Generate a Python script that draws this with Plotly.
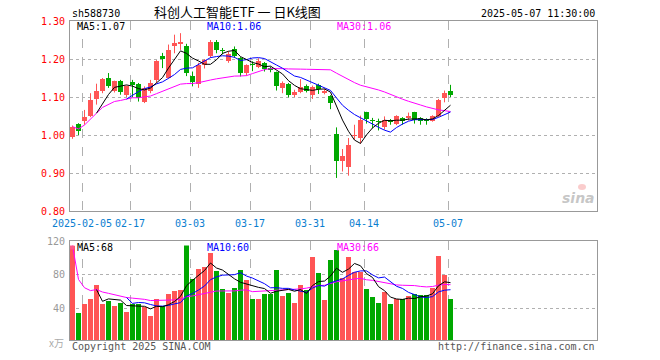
import plotly.graph_objects as go
import pandas as pd

# ---------------- data ----------------
dates = ["2025-01-24", "2025-01-27", "2025-02-05", "2025-02-06", "2025-02-07", "2025-02-10",
         "2025-02-11", "2025-02-12", "2025-02-13", "2025-02-14", "2025-02-17", "2025-02-18",
         "2025-02-19", "2025-02-20", "2025-02-21", "2025-02-24", "2025-02-25", "2025-02-26",
         "2025-02-27", "2025-02-28", "2025-03-03", "2025-03-04", "2025-03-05", "2025-03-06",
         "2025-03-07", "2025-03-10", "2025-03-11", "2025-03-12", "2025-03-13", "2025-03-14",
         "2025-03-17", "2025-03-18", "2025-03-19", "2025-03-20", "2025-03-21", "2025-03-24",
         "2025-03-25", "2025-03-26", "2025-03-27", "2025-03-28", "2025-03-31", "2025-04-01",
         "2025-04-02", "2025-04-03", "2025-04-07", "2025-04-08", "2025-04-09", "2025-04-10",
         "2025-04-11", "2025-04-14", "2025-04-15", "2025-04-16", "2025-04-17", "2025-04-18",
         "2025-04-21", "2025-04-22", "2025-04-23", "2025-04-24", "2025-04-25", "2025-04-28",
         "2025-04-29", "2025-04-30", "2025-05-06", "2025-05-07"]

opens = [0.995, 1.030, 1.038, 1.049, 1.095, 1.117, 1.150, 1.116, 1.143, 1.104,
         1.139, 1.135, 1.086, 1.115, 1.145, 1.209, 1.150, 1.235, 1.240, 1.233,
         1.156, 1.135, 1.185, 1.207, 1.246, 1.224, 1.196, 1.226, 1.202, 1.163,
         1.187, 1.180, 1.189, 1.176, 1.165, 1.124, 1.135, 1.104, 1.112, 1.130,
         1.104, 1.132, 1.110, 1.103, 1.003, 0.932, 0.917, 0.997, 0.992, 1.060,
         1.040, 1.037, 1.020, 1.040, 1.030, 1.045, 1.046, 1.060, 1.045, 1.042,
         1.038, 1.049, 1.097, 1.117]
highs = [1.025, 1.031, 1.066, 1.110, 1.135, 1.150, 1.163, 1.143, 1.145, 1.130,
         1.145, 1.137, 1.128, 1.145, 1.197, 1.216, 1.238, 1.264, 1.268, 1.240,
         1.167, 1.190, 1.200, 1.250, 1.250, 1.229, 1.220, 1.233, 1.205, 1.186,
         1.194, 1.202, 1.192, 1.180, 1.167, 1.141, 1.137, 1.119, 1.147, 1.133,
         1.130, 1.135, 1.122, 1.105, 1.020, 0.963, 0.992, 1.027, 1.051, 1.061,
         1.045, 1.043, 1.049, 1.042, 1.052, 1.047, 1.059, 1.061, 1.047, 1.044,
         1.052, 1.095, 1.117, 1.132]
lows = [0.990, 1.000, 1.027, 1.047, 1.080, 1.110, 1.124, 1.112, 1.106, 1.100,
        1.100, 1.088, 1.084, 1.110, 1.137, 1.176, 1.148, 1.215, 1.224, 1.155,
        1.128, 1.124, 1.175, 1.203, 1.215, 1.212, 1.190, 1.203, 1.154, 1.156,
        1.168, 1.176, 1.167, 1.165, 1.117, 1.110, 1.099, 1.100, 1.110, 1.112,
        1.095, 1.108, 1.107, 1.068, 0.887, 0.904, 0.893, 0.988, 0.977, 1.030,
        1.018, 1.012, 1.014, 1.027, 1.026, 1.027, 1.038, 1.030, 1.027, 1.027,
        1.035, 1.047, 1.086, 1.100]
closes = [1.022, 1.010, 1.047, 1.093, 1.115, 1.148, 1.130, 1.141, 1.112, 1.128,
          1.132, 1.097, 1.124, 1.137, 1.196, 1.201, 1.223, 1.241, 1.246, 1.163,
          1.139, 1.185, 1.198, 1.245, 1.223, 1.222, 1.214, 1.209, 1.163, 1.185,
          1.183, 1.194, 1.174, 1.170, 1.128, 1.137, 1.106, 1.112, 1.126, 1.117,
          1.126, 1.121, 1.116, 1.084, 0.931, 0.944, 0.974, 1.000, 1.040, 1.043,
          1.036, 1.035, 1.040, 1.033, 1.051, 1.036, 1.049, 1.040, 1.038, 1.036,
          1.049, 1.093, 1.110, 1.104]
volumes = [114.5, 33.7, 44.4, 50.4, 67.1, 44.4, 48.0, 42.0, 45.6, 34.9,
           44.4, 44.4, 40.8, 30.1, 50.4, 42.0, 56.4, 59.9, 61.1, 113.7,
           74.3, 86.2, 88.6, 105.7, 83.8, 62.3, 58.0, 64.3, 85.0, 73.1,
           50.4, 50.4, 57.1, 57.1, 85.0, 54.0, 58.0, 46.0, 67.1, 61.9,
           100.9, 81.8, 49.2, 96.9, 108.9, 76.2, 100.9, 83.0, 83.0, 62.3,
           53.2, 46.0, 59.1, 44.4, 51.2, 50.4, 54.0, 56.4, 55.2, 55.2,
           63.9, 102.1, 79.8, 50.4]

tick_dates = ["2025-02-05", "2025-02-17", "2025-03-03", "2025-03-17", "2025-03-31", "2025-04-14", "2025-05-07"]
tick_labels = ["2025-02-05", "02-17", "03-03", "03-17", "03-31", "04-14", "05-07"]
price_ticks = [0.80, 0.90, 1.00, 1.10, 1.20, 1.30]
vol_ticks = [40, 80, 120]

title_code = "sh588730"
title_name = "科创人工智能ETF 一 日K线图"
title_time = "2025-05-07 11:30:00"
price_legend = ["MA5:1.07", "MA10:1.06", "MA30:1.06"]
vol_legend = ["MA5:68", "MA10:60", "MA30:66"]

# ---------------- derived ----------------
RED = "#ff5555"
GREEN = "#00a800"
idx = list(range(len(dates)))
cl = pd.Series(closes)
vs = pd.Series(volumes)
ma5 = cl.rolling(5).mean()
ma10 = cl.rolling(10).mean()
ma30 = cl.rolling(30, min_periods=1).mean()
vma5 = vs.rolling(5).mean()
vma10 = vs.rolling(10).mean()
vma30 = vs.rolling(30, min_periods=1).mean()

up = [c >= o for o, c in zip(opens, closes)]
colors = [RED if u else GREEN for u in up]
body_lo = [min(o, c) for o, c in zip(opens, closes)]
body_h = [max(abs(c - o), 0.0027) for o, c in zip(opens, closes)]

# geometry (pixels)
W, H = 660, 360
L, R, T, B = 70, 597, 21, 340
PW, PH = R - L, B - T
SLOT = 6.0
x0 = -(2.5 / SLOT)
x1 = x0 + PW / SLOT
BW = 5 / SLOT


def px(x):
    return (x - L) / PW


def py(y):
    return (B - y) / PH


tick_pos = [dates.index(d) + x0 for d in tick_dates]

fig = go.Figure()

# wicks
for col, flag in ((RED, True), (GREEN, False)):
    wx, wy = [], []
    for i in idx:
        if up[i] == flag:
            wx += [i, i, None]
            wy += [lows[i], highs[i], None]
    fig.add_trace(go.Scatter(x=wx, y=wy, mode="lines", line=dict(color=col, width=1),
                             hoverinfo="skip", xaxis="x", yaxis="y"))

# bodies
fig.add_trace(go.Bar(x=idx, y=body_h, base=body_lo, width=BW, marker=dict(color=colors, line=dict(width=0)),
                     xaxis="x", yaxis="y", hoverinfo="skip"))

for s, c in ((ma30, "#ff00ff"), (ma10, "#0000ff"), (ma5, "#000000")):
    fig.add_trace(go.Scatter(x=idx, y=s, mode="lines", line=dict(color=c, width=1),
                             xaxis="x", yaxis="y", hoverinfo="skip"))

# volume
fig.add_trace(go.Bar(x=idx, y=volumes, width=BW, marker=dict(color=colors, line=dict(width=0)),
                     xaxis="x2", yaxis="y2", hoverinfo="skip"))
for s, c in ((vma30, "#ff00ff"), (vma10, "#0000ff"), (vma5, "#000000")):
    fig.add_trace(go.Scatter(x=idx, y=s, mode="lines", line=dict(color=c, width=1),
                             xaxis="x2", yaxis="y2", hoverinfo="skip"))

MONO = "DejaVu Sans Mono"
FRAME = "#999999"
GRID = "#b0b0b0"

top_dom = [py(211), 1.0]
bot_dom = [0.0, py(241)]
vol_px = (307.7 - 240.7) / 80.0
vol_min = 120 - (340 - 241) / vol_px

common_x = dict(range=[x0, x1], tickmode="array", tickvals=tick_pos, showgrid=True, gridcolor=GRID,
                griddash="dash", gridwidth=1, zeroline=False, showline=True, mirror=True,
                linecolor=FRAME, linewidth=1, ticks="", fixedrange=True)

fig.update_layout(
    width=W, height=H, margin=dict(l=L, r=W - R, t=T, b=H - B, pad=0),
    plot_bgcolor="white", paper_bgcolor="white", showlegend=False, bargap=0,
    font=dict(family=MONO, size=10, color="#000"),
    xaxis=dict(common_x, anchor="y", domain=[0, 1], ticktext=tick_labels, ticklabelstandoff=3,
               tickfont=dict(family=MONO, size=10, color="#0a7ed0")),
    xaxis2=dict(common_x, anchor="y2", domain=[0, 1], showticklabels=False, matches="x"),
    yaxis=dict(domain=top_dom, range=[0.80, 1.30], tickmode="array", tickvals=price_ticks,
               ticktext=["%.2f" % v for v in price_ticks], tickfont=dict(family=MONO, size=10, color="#ff0000"),
               showgrid=True, gridcolor=GRID, griddash="dot", zeroline=False, showline=True, mirror=True,
               linecolor=FRAME, linewidth=1, ticks="", ticklabelstandoff=2, fixedrange=True),
    yaxis2=dict(domain=bot_dom, range=[vol_min, 120], tickmode="array", tickvals=vol_ticks,
                ticktext=[str(v) for v in vol_ticks], tickfont=dict(family=MONO, size=10, color="#999999"),
                showgrid=True, gridcolor=GRID, griddash="dot", zeroline=False, showline=True, mirror=True,
                linecolor=FRAME, linewidth=1, ticks="", ticklabelstandoff=2, fixedrange=True),
)


def ann(text, x, y, xa="left", color="#000", size=10, family=MONO, **kw):
    fig.add_annotation(text=text, x=px(x), y=py(y), xref="paper", yref="paper", xanchor=xa,
                       yanchor="middle", showarrow=False, font=dict(family=family, size=size, color=color),
                       **kw)


ann(title_code, 70, 13)
ann(title_name, 237, 11, xa="center", size=13, family="Noto Sans CJK SC")
ann(title_time, 597, 13, xa="right")

ann(price_legend[0], 75, 26.5, color="#000000")
ann(price_legend[1], 205, 26.5, color="#0000ff")
ann(price_legend[2], 335, 26.5, color="#ff00ff")

ann(vol_legend[0], 75, 247.5, color="#000000")
ann(vol_legend[1], 205, 247.5, color="#0000ff")
ann(vol_legend[2], 335, 247.5, color="#ff00ff")

fig.add_shape(type="rect", xref="paper", yref="paper", x0=px(70), x1=px(74.5), y0=py(249.5), y1=py(245.5),
              fillcolor="#ff5a8a", line=dict(width=0))
fig.add_shape(type="rect", xref="paper", yref="paper", x0=px(184), x1=px(189), y0=py(249.5), y1=py(245.5),
              fillcolor=GREEN, line=dict(width=0))

ann("x万", 66, 342, xa="right", color="#aaaaaa", size=10, family="Noto Sans CJK SC")
ann("Copyright 2025 SINA.COM", 70, 346, color="#555555")
ann("http://finance.sina.com.cn", 597, 346, xa="right", color="#555555")

ann("<b><i>sina</i></b>", 597, 198, xa="right", color="rgba(150,150,150,0.55)", size=14, family="DejaVu Sans")
fig.add_shape(type="circle", xref="paper", yref="paper", x0=px(578), x1=px(586), y0=py(190), y1=py(184),
              fillcolor="rgba(240,110,110,0.35)", line=dict(width=0))

fig.write_html("out.html", config={"displayModeBar": False, "staticPlot": True},
               post_script="document.body.style.margin='0';document.body.style.padding='0';")
